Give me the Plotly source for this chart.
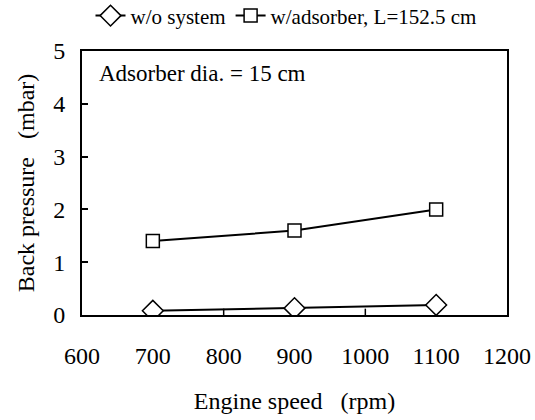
import plotly.graph_objects as go

speed = [700, 900, 1100]
wo_system = [0.08, 0.13, 0.19]
w_adsorber = [1.4, 1.6, 2.0]
x_ticks = [600, 700, 800, 900, 1000, 1100, 1200]
y_ticks = [0, 1, 2, 3, 4, 5]

FONT = "Liberation Serif, Times New Roman, Times, serif"

fig = go.Figure()
fig.add_trace(go.Scatter(
    x=speed, y=wo_system, mode="lines+markers", name="w/o system",
    line=dict(color="black", width=2),
    marker=dict(symbol="diamond", size=16, color="white", line=dict(color="black", width=1.5)),
))
fig.add_trace(go.Scatter(
    x=speed, y=w_adsorber, mode="lines+markers", name="w/adsorber, L=152.5 cm",
    line=dict(color="black", width=2),
    marker=dict(symbol="square", size=13, color="white", line=dict(color="black", width=1.5)),
))

fig.update_layout(
    width=535, height=420,
    margin=dict(l=82, r=28, t=51, b=105, autoexpand=False),
    paper_bgcolor="white", plot_bgcolor="white",
    font=dict(family=FONT, size=24, color="black"),
    showlegend=True,
    legend=dict(orientation="h", x=0.48, xanchor="center", y=0.962, yref="container",
                yanchor="middle", font=dict(size=21, family=FONT, color="black"),
                itemwidth=30, tracegroupgap=0, bgcolor="rgba(0,0,0,0)"),
    xaxis=dict(range=[600, 1200], tickvals=x_ticks, ticktext=[str(v) for v in x_ticks],
               tickfont=dict(family=FONT, size=24, color="black"),
               showgrid=False, zeroline=False, showline=True, linecolor="black", linewidth=2,
               mirror=True, ticks="", title=dict(text="Engine speed&nbsp;&nbsp;&nbsp;(rpm)", standoff=24,
                                                 font=dict(family=FONT, size=24)),
               ticklabelstandoff=18),
    yaxis=dict(range=[0, 5], tickvals=y_ticks, showgrid=False, zeroline=False, showline=True,
               tickfont=dict(family=FONT, size=24, color="black"),
               linecolor="black", linewidth=2, mirror=True, ticks="inside", ticklen=6,
               tickwidth=1.5, tickcolor="black",
               title=dict(text="Back pressure&nbsp;&nbsp;&nbsp;(mbar)", standoff=12,
                          font=dict(family=FONT, size=24)), ticklabelstandoff=10),
    annotations=[dict(text="Adsorber dia. = 15 cm", x=0.035, y=0.97, xref="paper", yref="paper",
                      xanchor="left", yanchor="top", showarrow=False,
                      font=dict(size=23, family=FONT, color="black"))],
)

# inside upward tick marks at 800 and 1000 on x-axis (Excel style)
for xv in [800, 1000]:
    fig.add_shape(type="line", x0=xv, x1=xv, y0=0, y1=0.12, xref="x", yref="y",
                  line=dict(color="black", width=1.5))

fig.write_html("out.html")
